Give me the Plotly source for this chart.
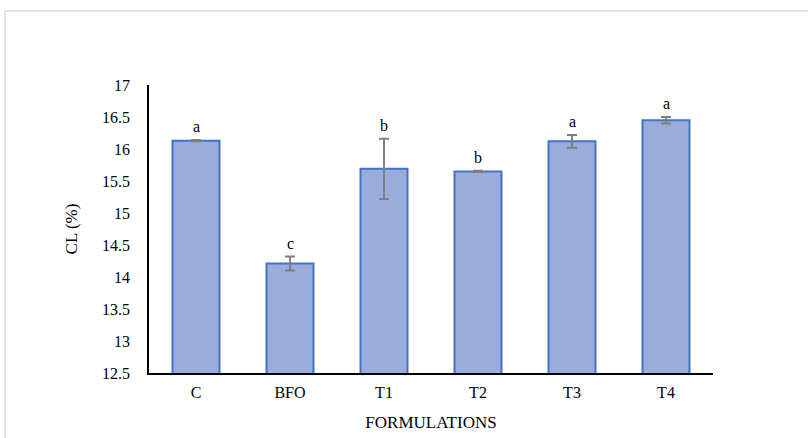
import plotly.graph_objects as go

# CL (%) by formulation, with standard deviation and significance letters
formulations = ["C", "BFO", "T1", "T2", "T3", "T4"]
cl_values = [16.13, 14.21, 15.69, 15.65, 16.12, 16.45]
cl_sd = [0.01, 0.11, 0.47, 0.01, 0.10, 0.05]
sig_letters = ["a", "c", "b", "b", "a", "a"]

serif = "Liberation Serif, Times New Roman, serif"

fig = go.Figure()
fig.add_trace(go.Bar(
    x=formulations,
    y=cl_values,
    width=0.5,
    marker=dict(color="#9aacdb", line=dict(color="#4472c4", width=2)),
    error_y=dict(type="data", array=cl_sd, visible=True,
                 color="#7f7f7f", thickness=2, width=5),
    showlegend=False,
))

# significance letters just above each error bar
for cat, v, sd, lab in zip(formulations, cl_values, cl_sd, sig_letters):
    fig.add_annotation(x=cat, y=v + sd, text=lab, showarrow=False,
                       yanchor="bottom", yshift=3,
                       font=dict(family=serif, size=16, color="#000000"))

# light outer frame of the chart area
fig.add_shape(type="line", xref="paper", yref="paper",
              x0=-0.2553, x1=-0.2553, y0=-0.3, y1=1.2569,
              line=dict(color="#d9d9d9", width=1.5))
fig.add_shape(type="line", xref="paper", yref="paper",
              x0=-0.2553, x1=1.3, y0=1.2569, y1=1.2569,
              line=dict(color="#d9d9d9", width=1.5))

fig.update_layout(
    width=808, height=438,
    margin=dict(l=149, r=95, t=85, b=65),
    paper_bgcolor="white", plot_bgcolor="white",
    font=dict(family=serif, size=16, color="#000000"),
    bargap=0.5,
)
fig.update_xaxes(
    automargin=False,
    showline=True, linecolor="#000000", linewidth=1.5,
    showgrid=False, ticks="", ticklabelstandoff=4,
    tickfont=dict(family=serif, size=16),
    title=dict(text="FORMULATIONS", font=dict(family=serif, size=17), standoff=16),
)
fig.update_yaxes(
    automargin=False,
    range=[12.5, 17], dtick=0.5, tick0=12.5,
    showline=True, linecolor="#000000", linewidth=1.5,
    showgrid=False, zeroline=False, ticks="", ticklabelstandoff=14,
    tickfont=dict(family=serif, size=16),
    title=dict(text="CL (%)", font=dict(family=serif, size=17), standoff=20),
)

fig.write_html("out.html")
